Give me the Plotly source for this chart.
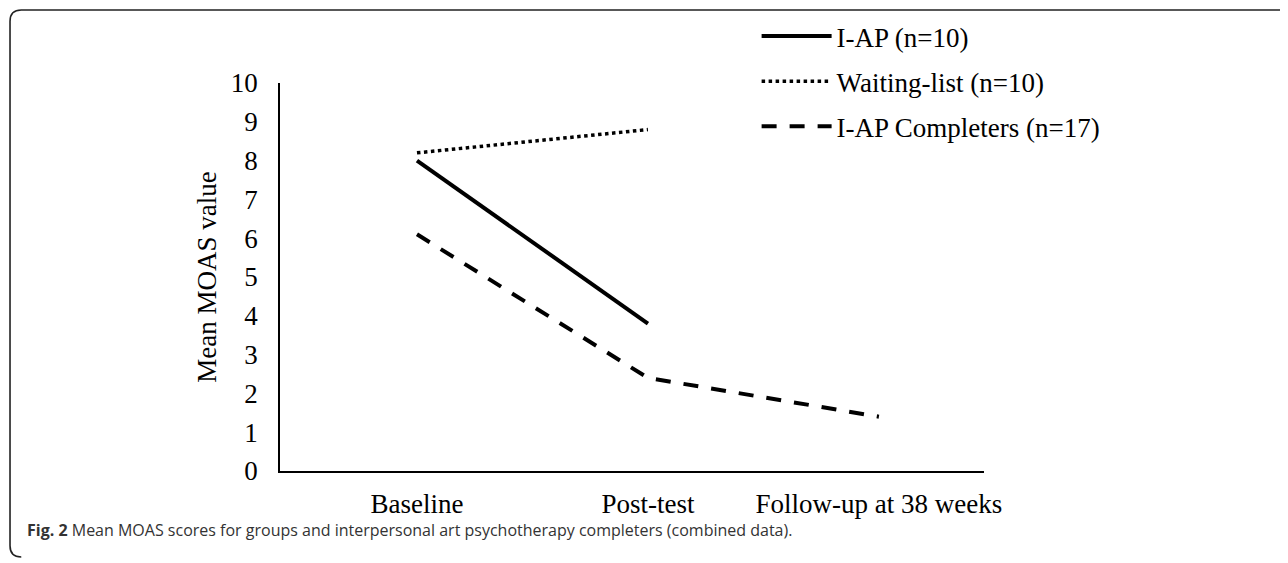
import plotly.graph_objects as go

categories = ["Baseline", "Post-test", "Follow-up at 38 weeks"]
iap = [8.0, 3.8, None]
waiting = [8.2, 8.8, None]
completers = [6.1, 2.4, 1.4]
y_ticks = list(range(0, 11))

SERIF = "Liberation Serif, Times New Roman, serif"

fig = go.Figure()
fig.add_trace(go.Scatter(x=categories, y=iap, mode="lines", name="I-AP (n=10)",
                         legendgroup="a", line=dict(color="black", width=4)))
fig.add_trace(go.Scatter(x=categories, y=waiting, mode="lines", name="Waiting-list (n=10)",
                         legendgroup="b", line=dict(color="black", width=3.5, dash="dot")))
fig.add_trace(go.Scatter(x=categories, y=completers, mode="lines", name="I-AP Completers (n=17)",
                         legendgroup="c", line=dict(color="black", width=4, dash="15px,13px")))

# rounded frame around the figure panel (paper coords)
L, R, T, B = -0.3835, 1.45, 1.188, -0.2216
rx, ry = 0.016, 0.029
path = (f"M{L+rx},{T} L{R},{T} M{L},{T-ry} Q{L},{T} {L+rx},{T} "
        f"M{L},{T-ry} L{L},{B+ry} Q{L},{B} {L+rx},{B}")
fig.add_shape(type="path", xref="paper", yref="paper", path=path,
              line=dict(color="#222222", width=1.6))

fig.add_annotation(xref="paper", yref="paper", x=-0.362, y=-0.153, xanchor="left", yanchor="middle",
                   showarrow=False, align="left",
                   text="<b>Fig. 2</b> Mean MOAS scores for groups and interpersonal art psychotherapy completers (combined data).",
                   font=dict(family="Open Sans, Noto Sans, sans-serif", size=16, color="#333333"))

fig.update_layout(
    width=1280, height=555,
    margin=dict(l=272, r=304, t=75, b=92, autoexpand=False),
    paper_bgcolor="white", plot_bgcolor="white",
    font=dict(family=SERIF, size=27, color="black"),
    showlegend=True,
    legend=dict(x=0.677, y=1.183, xanchor="left", yanchor="top",
                font=dict(family=SERIF, size=27, color="black"),
                traceorder="grouped", tracegroupgap=7, itemwidth=70,
                bgcolor="rgba(0,0,0,0)"),
)
fig.update_xaxes(type="category", range=[-0.593, 2.455], showline=True, linecolor="black",
                 linewidth=1.5, showgrid=False, zeroline=False, ticks="",
                 ticklabelstandoff=8, tickfont=dict(family=SERIF, size=27))
fig.update_yaxes(range=[0, 10], tickvals=y_ticks, showline=True, linecolor="black",
                 linewidth=1.5, showgrid=False, zeroline=False, ticks="",
                 ticklabelstandoff=15, tickfont=dict(family=SERIF, size=27),
                 title=dict(text="Mean MOAS value", standoff=6,
                            font=dict(family=SERIF, size=27)))

fig.write_html("out.html")
